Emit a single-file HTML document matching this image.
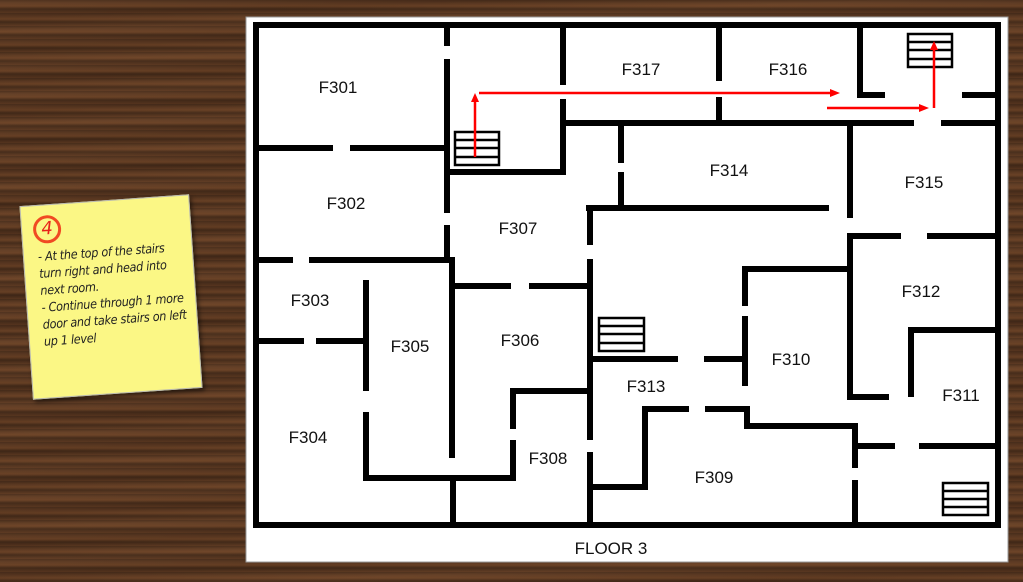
<!DOCTYPE html>
<html><head><meta charset="utf-8"><style>
html,body{margin:0;padding:0;}
body{width:1023px;height:582px;overflow:hidden;position:relative;
background:#5e3a22;
background-image:
repeating-linear-gradient(180deg, rgba(0,0,0,0.22) 0px, rgba(0,0,0,0) 3px, rgba(140,85,45,0.25) 6px, rgba(0,0,0,0.28) 9px, rgba(70,35,15,0.1) 13px),
repeating-linear-gradient(178deg, rgba(255,200,150,0.06) 0px, rgba(0,0,0,0.1) 17px, rgba(255,200,150,0.05) 31px);
}
.note{position:absolute;left:26px;top:200px;width:168px;height:192px;background:#fbf785;
transform:rotate(-4deg);box-shadow:2px 3px 4px rgba(0,0,0,0.5);border:1px solid #b9b9b0;}
.note .num{position:absolute;left:11px;top:10px;width:22px;height:22px;border:3px solid #f04a22;border-radius:50%;
color:#e8221a;font:italic 18px "DejaVu Sans",sans-serif;text-align:center;line-height:22px;}
.note .txt{position:absolute;left:14px;top:42px;width:145px;font:italic 12.5px "DejaVu Sans Condensed","DejaVu Sans",sans-serif;line-height:17px;color:#222;letter-spacing:-0.3px;}
svg{position:absolute;left:0;top:0;}
</style></head><body>
<div class="note"><div class="num">4</div><div class="txt">- At the top of the stairs turn right and head into next room.<br>- Continue through 1 more door and take stairs on left up 1 level</div></div>
<svg width="1023" height="582" viewBox="0 0 1023 582">
<rect x="246" y="17" width="762" height="545" fill="#fff" stroke="#999" stroke-width="1"/>
<g stroke="#000" stroke-width="6" fill="none" stroke-linecap="square">
<rect x="256" y="25" width="742" height="500"/>
<path d="M447 25V43M447 62V210M447 228V258"/>
<path d="M256 148H330M353 148H447"/>
<path d="M447 172H563V120M563 25V82M563 102V123"/>
<path d="M563 123H911M944 123H998"/>
<path d="M719 25V78M719 100V123"/>
<path d="M860 25V95H882M965 95H998"/>
<path d="M621 123V160M621 175V208"/>
<path d="M589 208H826M590 208V242M590 262V437M590 455V525"/>
<path d="M850 123V215M850 236V397H886"/>
<path d="M850 236H898M930 236H998"/>
<path d="M745 269H850M745 269V303M745 319V383"/>
<path d="M590 359H675M707 359H745"/>
<path d="M911 394V330H998"/>
<path d="M645 409H686M708 409H747V426H855V465M855 483V525"/>
<path d="M855 446H892M922 446H998"/>
<path d="M645 409V487H590"/>
<path d="M256 260H290M312 260H452V455"/>
<path d="M452 286H508M532 286H590"/>
<path d="M366 283V388M366 415V478H513V443M513 426V391H590"/>
<path d="M256 341H301M319 341H366"/>
<path d="M453 478V525"/>
</g>
<g stroke="#000" stroke-width="2.5" fill="#fff">
<rect x="455" y="132" width="44" height="33"/>
<path d="M455 140H499M455 148H499M455 157H499" fill="none"/>
<rect x="908" y="34" width="44" height="33"/>
<path d="M908 42H952M908 50H952M908 59H952" fill="none"/>
<rect x="599" y="318" width="45" height="33"/>
<path d="M599 326H644M599 334H644M599 343H644" fill="none"/>
<rect x="943" y="483" width="45" height="32"/>
<path d="M943 491H988M943 499H988M943 507H988" fill="none"/>
</g>
<g stroke="#f00" stroke-width="2.5" fill="#f00">
<path d="M475 157V100" fill="none"/><path d="M471 102L475 93L479 102Z" stroke="none"/>
<path d="M479 93H832" fill="none"/><path d="M830 89L840 93L830 97Z" stroke="none"/>
<path d="M827 108H920" fill="none"/><path d="M919 104L929 108L919 112Z" stroke="none"/>
<path d="M934 108V48" fill="none"/><path d="M930 50L934 41L938 50Z" stroke="none"/>
</g>
<g font-family="Liberation Sans, sans-serif" font-size="17" fill="#111" text-anchor="middle">
<text x="338" y="93">F301</text><text x="346" y="209">F302</text><text x="310" y="306">F303</text>
<text x="308" y="443">F304</text><text x="410" y="352">F305</text><text x="520" y="346">F306</text>
<text x="518" y="234">F307</text><text x="548" y="464">F308</text><text x="714" y="483">F309</text>
<text x="791" y="365">F310</text><text x="961" y="401">F311</text><text x="921" y="297">F312</text>
<text x="646" y="392">F313</text><text x="729" y="176">F314</text><text x="924" y="188">F315</text>
<text x="788" y="75">F316</text><text x="641" y="75">F317</text>
<text x="611" y="554">FLOOR 3</text>
</g>
</svg>
</body></html>
